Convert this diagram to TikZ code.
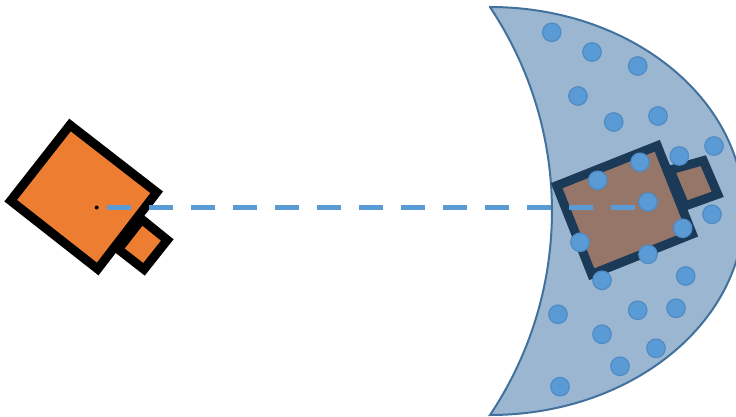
\documentclass[tikz,border=0pt]{standalone}
\definecolor{moonfill}{HTML}{9BB6D1}
\definecolor{moonline}{HTML}{41719C}
\definecolor{dotfill}{HTML}{5B9BD5}
\definecolor{dotline}{HTML}{4F8BC4}
\definecolor{camorange}{HTML}{ED7D31}
\definecolor{cambrown}{HTML}{957668}
\definecolor{camnavy}{HTML}{1A3A57}
\tikzset{
  moon/.style={fill=moonfill,draw=moonline,line width=2pt,line join=miter},
  orangecam/.style={fill=camorange,draw=black,line width=9pt,line join=miter},
  browncam/.style={fill=cambrown,draw=camnavy,line width=9pt,line join=miter},
  spot/.style={circle,inner sep=0pt,minimum size=18.5pt,fill=dotfill,draw=dotline,line width=1.2pt},
  pivot/.style={circle,inner sep=0pt,minimum size=4pt,fill=black},
  ray/.style={draw=dotfill,line width=5pt,dash pattern=on 24pt off 18pt}
}
\begin{document}
\begin{tikzpicture}[x=1pt,y=-1pt]
\path[use as bounding box,clip] (0,0) rectangle (736,417);
% crescent
\draw[moon] (490,7) arc[start angle=90,end angle=-90,x radius=254pt,y radius=204pt]
  arc[start angle=-33.8,end angle=33.8,radius=366.6pt] -- cycle;
% orange camera
\draw[orangecam] (141.7,219.3) -- (167.3,240) -- (144,269.3) -- (118.3,249.3) -- cycle;
\draw[orangecam] (70,125) -- (156.7,192.3) -- (97.7,269) -- (10.7,200.7) -- cycle;
\node[pivot] (pivot) at (96.7,207.5) {};
% brown camera
\draw[browncam] (703.3,160.7) -- (717.7,194.3) -- (685,206) -- (670,170) -- cycle;
\draw[browncam] (657.3,145.7) -- (692.3,234) -- (591.7,274.3) -- (556.7,185.7) -- cycle;
% ray
\coordinate (raystart) at (107,207.5);
\coordinate (rayend) at (648,207.5);
\draw[ray] (raystart) -- (rayend);
% spots
\foreach \n/\x/\y in {a/551.7/32.3,b/592/52,c/637.7/66,d/578/96,e/613.7/122,f/658/116,
  g/679.3/156,h/714/146,i/640/162.3,j/597.7/180.3,k/648/202,l/682.7/228.3,m/712/214.3,
  n/580/242.3,o/648/254.3,p/602/280.3,q/685.7/276,r/558/314.3,s/637.7/310.3,t/676/308.3,
  u/602/334.3,v/656/348.3,w/620/366.3,z/560/386.7}
  \node[spot] (\n) at (\x,\y) {};
\end{tikzpicture}
\end{document}
